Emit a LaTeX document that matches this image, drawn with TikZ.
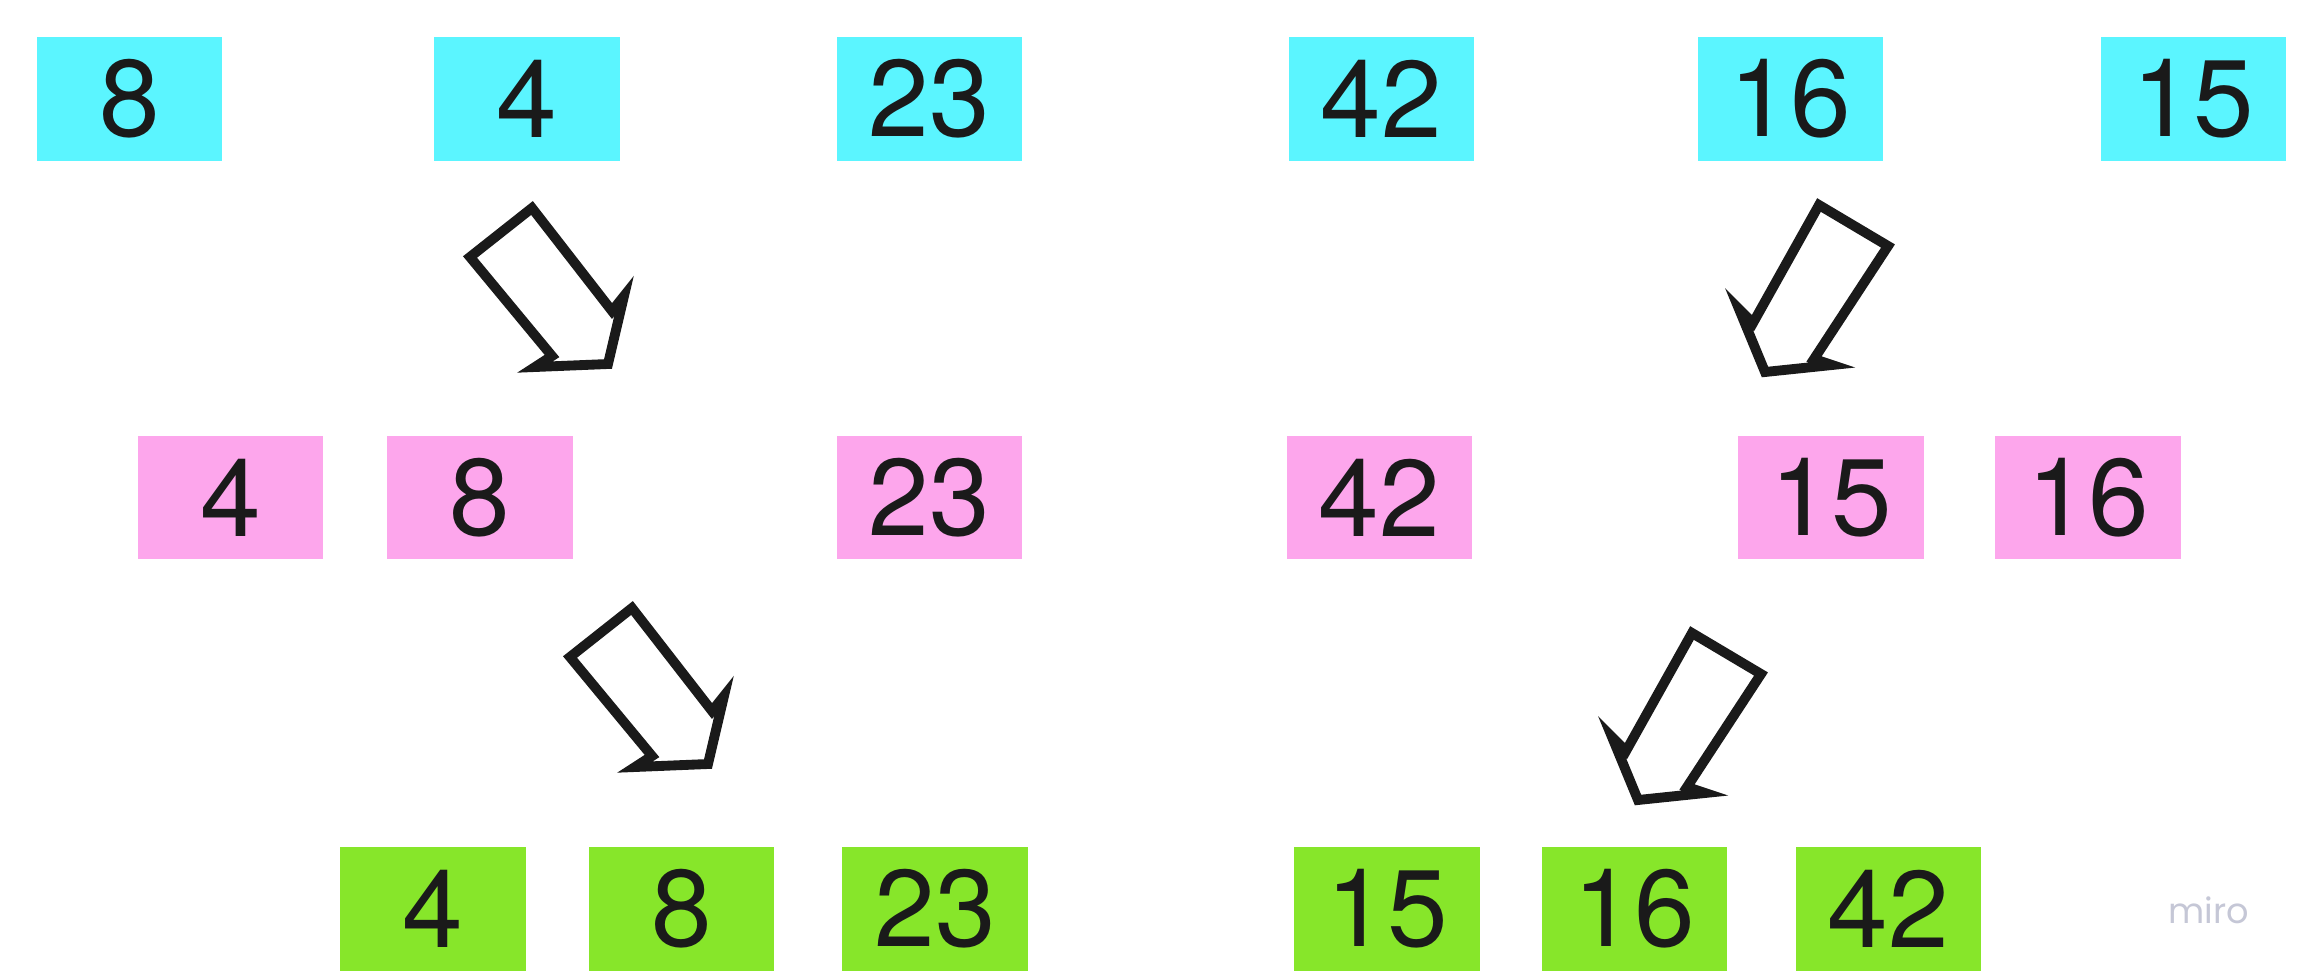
\documentclass[tikz,border=0pt]{standalone}
\usepackage{fontspec}
\setmainfont{TeX Gyre Heros}
\newfontfamily\logofont{Poppins}
\usepackage{xcolor}
\usetikzlibrary{positioning}

\definecolor{boxcyan}{RGB}{91,245,255}
\definecolor{boxpink}{RGB}{253,166,236}
\definecolor{boxgreen}{RGB}{135,230,42}
\definecolor{ink}{RGB}{26,26,26}
\definecolor{logogray}{RGB}{197,199,214}

\begin{document}
\begin{tikzpicture}[x=0.01cm, y=-0.01cm,
    num/.style={rectangle, minimum width=1.85cm, minimum height=1.23cm, inner sep=0pt,
        text=ink, font=\fontsize{31}{37}\selectfont},
    cyanbox/.style={num, fill=boxcyan},
    pinkbox/.style={num, fill=boxpink},
    greenbox/.style={num, fill=boxgreen},
    blockarr/.style={draw=ink, line width=2.8pt, line join=miter, fill=white},
    logo/.style={font=\logofont\fontsize{10}{12}\selectfont, text=logogray}
]
    \useasboundingbox (0,0) rectangle (2299,978);

    % unsorted input
    \node[cyanbox] (a8) at (129.5,99) {8};
    \node[cyanbox] (a4) at (527,99) {4};
    \node[cyanbox] (a23) at (929.5,99) {23};
    \node[cyanbox] (a42) at (1381.5,99) {42};
    \node[cyanbox] (a16) at (1790.5,99) {16};
    \node[cyanbox] (a15) at (2193.5,99) {15};

    % first merge step
    \node[pinkbox] (b4) at (230.5,497.5) {4};
    \node[pinkbox] (b8) at (480,497.5) {8};
    \node[pinkbox] (b23) at (929.5,497.5) {23};
    \node[pinkbox] (b42) at (1379.5,497.5) {42};
    \node[pinkbox] (b15) at (1831,497.5) {15};
    \node[pinkbox] (b16) at (2088,497.5) {16};

    % second merge step
    \node[greenbox] (c4) at (433,909) {4};
    \node[greenbox] (c8) at (681.5,909) {8};
    \node[greenbox] (c23) at (935,909) {23};
    \node[greenbox] (c15) at (1387,909) {15};
    \node[greenbox] (c16) at (1634.5,909) {16};
    \node[greenbox] (c42) at (1888.5,909) {42};

    % block arrows
    \draw[blockarr] (532,208) -- (470,257) -- (552,356) -- (535,367) -- (608,364)
        -- (624,296) -- (612,311) -- cycle;
    \draw[blockarr, shift={(100,400)}] (532,208) -- (470,257) -- (552,356) -- (535,367)
        -- (608,364) -- (624,296) -- (612,311) -- cycle;
    \draw[blockarr] (1819,205) -- (1888,246) -- (1814,359) -- (1832,365) -- (1765,372)
        -- (1739,309) -- (1753,323) -- cycle;
    \draw[blockarr, shift={(-127,428)}] (1819,205) -- (1888,246) -- (1814,359) -- (1832,365)
        -- (1765,372) -- (1739,309) -- (1753,323) -- cycle;

    \node[logo, anchor=base] (miro) at (2209,923) {miro};
\end{tikzpicture}
\end{document}
